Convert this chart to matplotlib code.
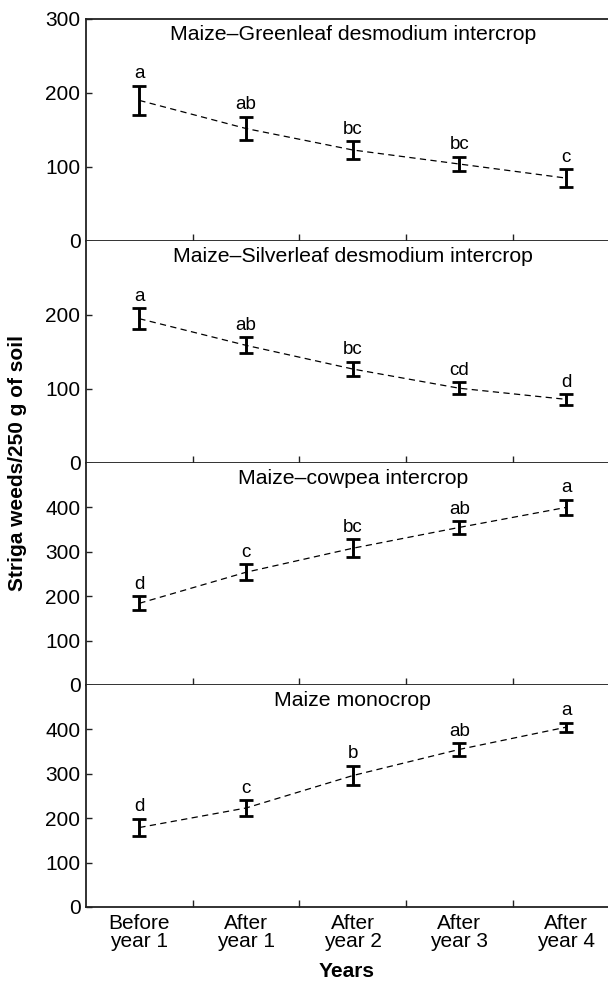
import matplotlib
matplotlib.use("Agg")
import matplotlib.pyplot as plt
import numpy as np

plt.rcParams['font.family'] = ['Liberation Sans', 'DejaVu Sans']

categories = ["Before\nyear 1", "After\nyear 1", "After\nyear 2", "After\nyear 3", "After\nyear 4"]

titles = ["Maize\u2013Greenleaf desmodium intercrop",
          "Maize\u2013Silverleaf desmodium intercrop",
          "Maize\u2013cowpea intercrop",
          "Maize monocrop"]

greenleaf_mean = [190, 152, 123, 104, 85]
greenleaf_err = [20, 16, 12, 10, 12]
greenleaf_letters = ["a", "ab", "bc", "bc", "c"]

silverleaf_mean = [195, 159, 127, 101, 86]
silverleaf_err = [14, 11, 10, 8, 7]
silverleaf_letters = ["a", "ab", "bc", "cd", "d"]

cowpea_mean = [184, 254, 308, 355, 400]
cowpea_err = [16, 18, 20, 14, 17]
cowpea_letters = ["d", "c", "bc", "ab", "a"]

mono_mean = [179, 223, 296, 355, 405]
mono_err = [20, 18, 22, 14, 10]
mono_letters = ["d", "c", "b", "ab", "a"]

means = [greenleaf_mean, silverleaf_mean, cowpea_mean, mono_mean]
errs = [greenleaf_err, silverleaf_err, cowpea_err, mono_err]
letters = [greenleaf_letters, silverleaf_letters, cowpea_letters, mono_letters]
ylims = [300, 300, 500, 500]
yticks = [[0, 100, 200, 300], [0, 100, 200], [0, 100, 200, 300, 400], [0, 100, 200, 300, 400]]

W, H = 608, 981
fig = plt.figure(figsize=(W / 100, H / 100), dpi=100)

left_px = 86
right_px = 608
bottom_px = 907
panel_h = 222
x_right = 4.5 - (619.5 - 608) / 106.7

spine_col = "#222222"
x = np.arange(len(categories))

for i in range(4):
    top_px = bottom_px - panel_h * (4 - i)
    ax = fig.add_axes([left_px / W, (H - (top_px + panel_h)) / H,
                       (right_px - left_px) / W, panel_h / H])
    ax.set_xlim(-0.5, x_right)
    ax.set_ylim(0, ylims[i])
    ax.plot(x, means[i], ls=(0, (5, 3.5)), color="black", lw=0.9, zorder=2)
    ax.errorbar(x, means[i], yerr=errs[i], fmt="none", ecolor="black",
                elinewidth=2.1, capsize=5, capthick=2.0, zorder=3)
    for xi, m, e, lab in zip(x, means[i], errs[i], letters[i]):
        ax.annotate(lab, (xi, m + e), xytext=(0, 2.5), textcoords="offset points",
                    ha="center", va="bottom", fontsize=13.5)
    ax.text(2.0, 0.975, titles[i], transform=ax.get_xaxis_transform(),
            ha="center", va="top", fontsize=15.3)
    ax.set_yticks(yticks[i])
    ax.tick_params(axis="y", direction="in", length=4, width=1.0, pad=4,
                   labelsize=15, colors=spine_col, labelcolor="black")
    ax.set_xticks(x)
    ax.set_xticks(np.arange(0.5, 4.0, 1.0), minor=True)
    ax.tick_params(axis="x", which="major", length=0, pad=5, labelsize=15)
    ax.tick_params(axis="x", which="minor", direction="in", length=5, width=1.0,
                   colors=spine_col)
    if i < 3:
        ax.set_xticklabels([])
    else:
        ax.set_xticklabels(categories, linespacing=0.95)
        ax.set_xlabel("Years", fontsize=15, fontweight="bold", labelpad=8)
    for s in ["left", "bottom", "top"]:
        ax.spines[s].set_color(spine_col)
        ax.spines[s].set_linewidth(1.3)
    ax.spines["right"].set_visible(False)
    if i > 0:
        ax.spines["top"].set_visible(False)

fig.text(18 / W, 1 - 463 / H, "Striga weeds/250 g of soil", rotation=90,
         ha="center", va="center", fontsize=15, fontweight="bold")

fig.savefig("out.png", dpi=100)
